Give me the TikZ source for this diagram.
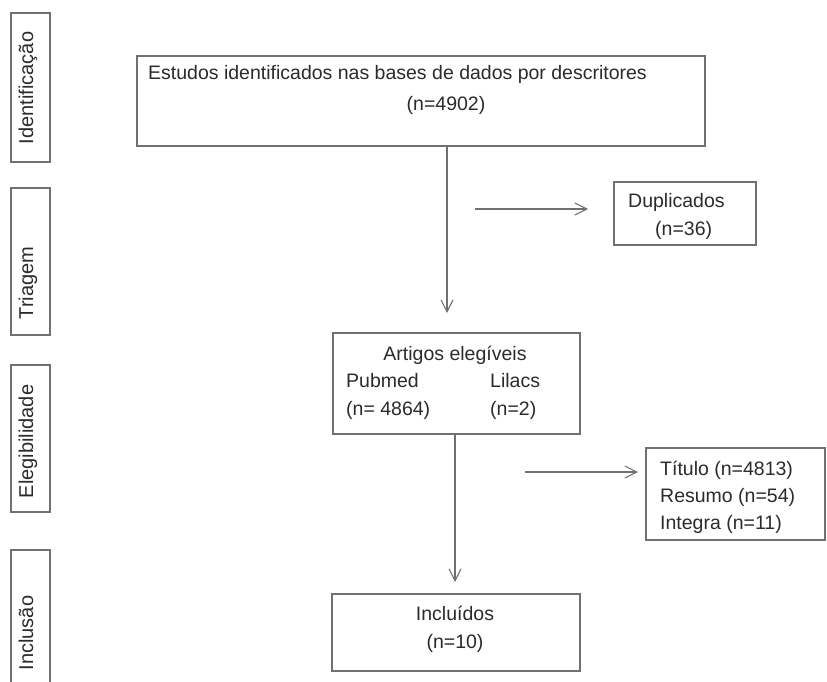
\documentclass[tikz,border=0pt]{standalone}
\usepackage{fontspec}
\setmainfont{Liberation Sans}
\usetikzlibrary{arrows.meta}
\definecolor{txt}{HTML}{2B2B2B}
\definecolor{ln}{HTML}{707070}
\begin{document}
\begin{tikzpicture}[x=1pt,y=-1pt,
  box/.style={draw=ln, line width=1.1pt, inner sep=0pt, rectangle},
  lbl/.style={font=\fontsize{19.5}{27}\selectfont, text=txt, inner sep=0pt},
  side/.style={font=\fontsize{20}{24}\selectfont, text=txt, rotate=90, inner sep=0pt, anchor=base},
  arr/.style={draw=ln, line width=1.1pt, -{Straight Barb[length=12pt,width=12pt]}}]
\fill[white] (0,0) rectangle (827,682);
\useasboundingbox (0,0) rectangle (827,682);
\clip (0,0) rectangle (827,682);

% stage boxes on the left
\node[box, minimum width=39pt, minimum height=149pt] (idb) at (30.5,87.5) {};
\node[box, minimum width=39pt, minimum height=147pt] (trb) at (30.5,261.5) {};
\node[box, minimum width=39pt, minimum height=147pt] (elb) at (30.5,438.5) {};
\node[box, minimum width=39pt, minimum height=170pt] (inb) at (30.5,635) {};
\node[side] (idt) at (33,88) {Identificação};
\node[side] (trt) at (33,283) {Triagem};
\node[side] (elt) at (33,441.5) {Elegibilidade};
\node[side] (int) at (33,633) {Inclusão};

% main flow boxes
\node[box, minimum width=568pt, minimum height=90pt] (main) at (421,101) {};
\node[box, minimum width=142pt, minimum height=63pt] (dup) at (685,213.5) {};
\node[box, minimum width=247pt, minimum height=101pt] (art) at (456.5,383.5) {};
\node[box, minimum width=179pt, minimum height=92pt] (tit) at (735.5,494) {};
\node[box, minimum width=248pt, minimum height=77pt] (inc) at (456,632.5) {};

% texts
\node[lbl, anchor=base west] (m1) at (148,80) {Estudos identificados nas bases de dados por descritores};
\node[lbl, anchor=base] (m2) at (446,111) {(n=4902)};
\node[lbl, anchor=base west] (d1) at (628,207) {Duplicados};
\node[lbl, anchor=base west] (d2) at (655,235) {(n=36)};
\node[lbl, anchor=base] (a1t) at (455,360) {Artigos elegíveis};
\node[lbl, anchor=base west] (a2t) at (346,387) {Pubmed};
\node[lbl, anchor=base west] (a3t) at (490,387) {Lilacs};
\node[lbl, anchor=base west] (a4t) at (346,415) {(n= 4864)};
\node[lbl, anchor=base west] (a5t) at (490,415) {(n=2)};
\node[lbl, anchor=base west] (t1) at (660,475) {Título (n=4813)};
\node[lbl, anchor=base west] (t2) at (660,502) {Resumo (n=54)};
\node[lbl, anchor=base west] (t3) at (660,529) {Integra (n=11)};
\node[lbl, anchor=base] (i1) at (455,620) {Incluídos};
\node[lbl, anchor=base] (i2) at (455,648) {(n=10)};

% connectors
\coordinate (v1) at (447,313);
\coordinate (h1s) at (475,209);
\coordinate (h1e) at (588,209);
\coordinate (v2) at (455,582);
\coordinate (h2s) at (525,472);
\coordinate (h2e) at (638,472);
\draw[arr] (main.south -| v1) -- (v1);
\draw[arr] (h1s) -- (h1e);
\draw[arr] (art.south -| v2) -- (v2);
\draw[arr] (h2s) -- (h2e);
\end{tikzpicture}
\end{document}
